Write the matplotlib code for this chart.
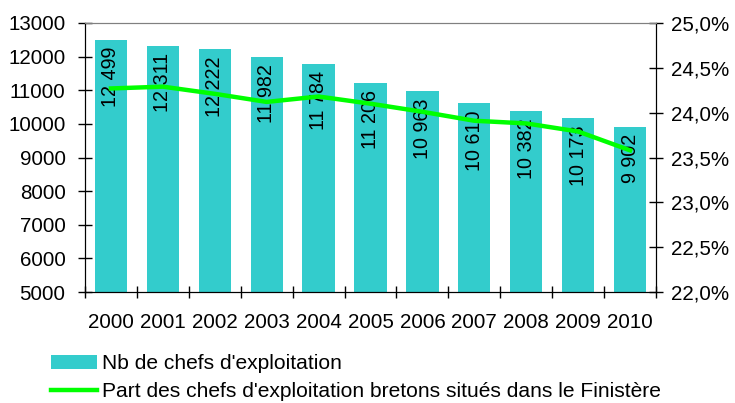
import numpy as np
import matplotlib
matplotlib.use('Agg')
import matplotlib.pyplot as plt
from matplotlib.patches import Patch
from matplotlib.lines import Line2D
from matplotlib.ticker import FuncFormatter

plt.rcParams['font.family'] = ['Liberation Sans', 'DejaVu Sans']

# données
annees = ['2000', '2001', '2002', '2003', '2004', '2005', '2006', '2007', '2008', '2009', '2010']
nb_chefs = [12499, 12311, 12222, 11982, 11784, 11206, 10963, 10610, 10382, 10173, 9902]
part_finistere = [24.27, 24.29, 24.21, 24.12, 24.18, 24.10, 24.01, 23.91, 23.88, 23.79, 23.58]

fs = 14.8
fig = plt.figure(figsize=(7.35, 4.03), dpi=100)
ax = fig.add_axes([85/735, 1 - 292/403, (656 - 85)/735, (292 - 23)/403])
ax2 = ax.twinx()

x = np.arange(len(annees))
ax.bar(x, nb_chefs, width=0.62, color='#33CCCC', zorder=2)

ax2.plot(x, part_finistere, color='#00FF00', lw=3.2, zorder=3)
ax2.set_zorder(ax.get_zorder() + 1)
ax2.patch.set_visible(False)

# étiquettes dans les barres
for xi, v in zip(x, nb_chefs):
    txt = f'{v:,}'.replace(',', ' ')
    ax.annotate(txt, (xi, v), xytext=(0, -5), textcoords='offset points',
                rotation=90, ha='center', va='top', fontsize=14.2, color='black', zorder=4)

ax.set_xlim(-0.5, len(annees) - 0.5)
ax.set_ylim(5000, 13000)
ax.set_yticks(np.arange(5000, 13001, 1000))
ax2.set_ylim(22.0, 25.0)
ax2.set_yticks(np.arange(22.0, 25.01, 0.5))
ax2.yaxis.set_major_formatter(FuncFormatter(lambda v, p: f'{v:.1f}%'.replace('.', ',')))

ax.set_xticks(x)
ax.set_xticklabels(annees)
ax.set_xticks(np.arange(-0.5, len(annees)), minor=True)
ax.tick_params(axis='x', which='major', length=0, pad=15, labelsize=fs)
ax.tick_params(axis='x', which='minor', direction='inout', length=9, width=1)
ax.tick_params(axis='y', direction='inout', length=10, width=1, pad=9, labelsize=fs)
ax2.tick_params(axis='y', direction='inout', length=10, width=1, pad=6, labelsize=fs)

for a in (ax, ax2):
    a.spines['top'].set_color('#808080')
    for s in ('left', 'right', 'bottom'):
        a.spines[s].set_color('black')

handles = [Patch(facecolor='#33CCCC', edgecolor='none'),
           Line2D([0], [0], color='#00FF00', lw=3.2)]
labels = ["Nb de chefs d'exploitation",
          "Part des chefs d'exploitation bretons situés dans le Finistère"]
fig.legend(handles, labels, loc='upper left', bbox_to_anchor=(51/735, 1 - 354/403),
           frameon=False, fontsize=15.15, handlelength=2.2, handleheight=0.65,
           handletextpad=0.2, labelspacing=0.42, borderpad=0, borderaxespad=0)

fig.savefig('out.png', dpi=100)
